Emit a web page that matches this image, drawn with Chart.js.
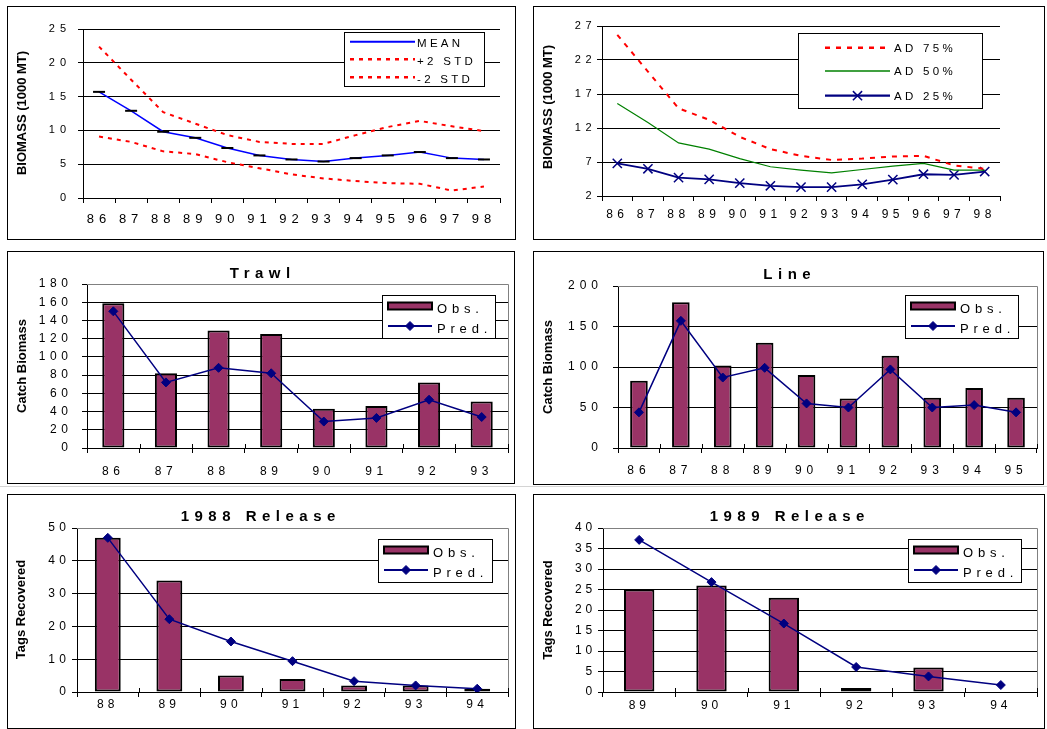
<!DOCTYPE html>
<html>
<head>
<meta charset="utf-8">
<script src="https://cdn.jsdelivr.net/npm/chart.js@4.4.0/dist/chart.umd.min.js"></script>
<style>
  body { margin: 0; background: #fff; width: 1047px; height: 729px; overflow: hidden; position: relative; }
  canvas { position: absolute; }
  #sep { position: absolute; left: 0; top: 486px; width: 1047px; height: 1px; background: #d4d4d4; }
</style>
</head>
<body>
<div id="sep"></div>
<canvas id="biomass"></canvas>
<canvas id="adBiomass"></canvas>
<canvas id="trawl"></canvas>
<canvas id="line"></canvas>
<canvas id="rel88"></canvas>
<canvas id="rel89"></canvas>
<script>
const FONT = "'Liberation Sans', Arial, Helvetica, sans-serif";

// biomass, mean and +/- 2 std
const years = ['86','87','88','89','90','91','92','93','94','95','96','97','98'];
const meanBiomass = [15.7, 12.9, 9.8, 8.9, 7.4, 6.3, 5.7, 5.4, 5.9, 6.3, 6.8, 5.9, 5.7];
const plus2Std = [22.4, 17.5, 12.7, 11.0, 9.3, 8.3, 8.0, 8.0, 9.3, 10.5, 11.4, 10.6, 9.9];
const minus2Std = [9.1, 8.3, 6.9, 6.5, 5.3, 4.4, 3.5, 2.9, 2.5, 2.2, 2.1, 1.1, 1.7];
const biomassTicks = [0, 5, 10, 15, 20, 25];

// biomass by AD percentile
const ad75 = [25.7, 20.3, 14.9, 13.2, 10.7, 8.9, 7.9, 7.3, 7.5, 7.8, 7.9, 6.5, 6.0];
const ad50 = [15.6, 12.8, 9.8, 8.9, 7.5, 6.3, 5.8, 5.4, 5.9, 6.4, 6.8, 5.8, 5.8];
const ad25 = [6.8, 6.0, 4.7, 4.45, 3.9, 3.5, 3.3, 3.3, 3.7, 4.4, 5.2, 5.1, 5.6];
const adTicks = [2, 7, 12, 17, 22, 27];

// catch biomass, trawl
const trawlYears = ['86','87','88','89','90','91','92','93'];
const trawlObs = [159, 82, 129, 125, 43, 46, 72, 51];
const trawlPred = [150, 72, 88, 82, 29, 33, 53, 34];
const trawlTicks = [0, 20, 40, 60, 80, 100, 120, 140, 160, 180];

// catch biomass, line
const lineYears = ['86','87','88','89','90','91','92','93','94','95'];
const lineObs = [83, 180, 102, 130, 90, 61, 114, 62, 74, 62];
const linePred = [44, 157, 87, 99, 55, 50, 97, 50, 53, 44];
const lineTicks = [0, 50, 100, 150, 200];

// tag recoveries
const rel88Years = ['88','89','90','91','92','93','94'];
const rel88Obs = [47, 34, 5, 4, 2, 2, 1];
const rel88Pred = [47, 22.2, 15.4, 9.4, 3.3, 2.0, 1.0];
const rel88Ticks = [0, 10, 20, 30, 40, 50];

const rel89Years = ['89','90','91','92','93','94'];
const rel89Obs = [25, 26, 23, 1, 6, 0];
const rel89Pred = [37.1, 26.8, 16.7, 6.1, 3.8, 1.7];
const rel89Ticks = [0, 5, 10, 15, 20, 25, 30, 35, 40];

Chart.defaults.font.family = FONT;
Chart.defaults.color = '#000';

const BAR = '#993366', NAVY = '#000080';

// page geometry of every panel: outer box, plot area, text placement
const panels = {
  biomass: { box: [7, 6, 515, 239], plot: [83, 29, 500, 198], yFont: 11, xFont: 13, spacing: 5, yPad: 7, xPad: 9,
    yTitle: { text: 'BIOMASS (1000 MT)', x: 22, y: 113 },
    legend: { box: [344, 32, 484, 86], sample: [350, 415], textX: 417, textDy: 2.5, font: 11.5, spacing: 3.3,
      rows: [{ ds: 0, y: 41.7, marker: false }, { ds: 1, y: 59.3 }, { ds: 2, y: 77.3 }] } },
  adBiomass: { box: [533, 6, 1044, 239], plot: [602, 26, 1000, 196], yFont: 11, xFont: 12, spacing: 4.5, yPad: 1, xPad: 6,
    yTitle: { text: 'BIOMASS (1000 MT)', x: 548, y: 107 },
    legend: { box: [798, 33, 982, 108], sample: [825, 890], textX: 894, textDy: 1, font: 11.5, spacing: 3.3,
      rows: [{ ds: 0, y: 47.7 }, { ds: 1, y: 71 }, { ds: 2, y: 95.7 }] } },
  trawl: { box: [7, 251, 514, 483], plot: [87, 284, 508, 448], yFont: 12, xFont: 12, spacing: 4.6, yPad: 9.5, xPad: 11, frame: true,
    yTitle: { text: 'Catch Biomass', x: 22, y: 366 }, title: { text: 'Trawl', x: 260, y: 274 },
    legend: { box: [382, 295, 495, 338] } },
  line: { box: [533, 251, 1043, 484], plot: [618, 286, 1037, 448], yFont: 12, xFont: 12, spacing: 5, yPad: 10, xPad: 10.5, frame: true,
    yTitle: { text: 'Catch Biomass', x: 548, y: 367 }, title: { text: 'Line', x: 787, y: 275 },
    legend: { box: [905, 295, 1018, 338] } },
  rel88: { box: [7, 494, 515, 728], plot: [77, 528, 508, 692], yFont: 12, xFont: 12, spacing: 4.2, yPad: 2, xPad: 0.5, frame: true,
    yTitle: { text: 'Tags Recovered', x: 21, y: 609.5 }, title: { text: '1988 Release', x: 258, y: 517 },
    legend: { box: [378, 539, 492, 582] } },
  rel89: { box: [533, 494, 1044, 728], plot: [603, 528, 1037, 692], yFont: 12, xFont: 12, spacing: 3.8, yPad: 2, xPad: 1, frame: true,
    yTitle: { text: 'Tags Recovered', x: 548, y: 610 }, title: { text: '1989 Release', x: 787, y: 517 },
    legend: { box: [908, 539, 1021, 582] } }
};

// obs/pred legends share one layout relative to their box
function obsPredLegend(lg) {
  const x = lg.box[0], y = lg.box[1];
  lg.sample = [x + 6, x + 50];
  lg.textX = x + 55;
  lg.textDy = 3.5;
  lg.font = 13;
  lg.spacing = 4.8;
  lg.rows = [{ ds: 1, y: y + 11 }, { ds: 0, y: y + 31 }];
}
['trawl', 'line', 'rel88', 'rel89'].forEach(k => obsPredLegend(panels[k].legend));

function panelPlugin(p) {
  return {
    id: 'panel',
    beforeDraw(chart) {
      chart.ctx.letterSpacing = p.spacing + 'px';
    },
    afterDraw(chart) {
      const ctx = chart.ctx, a = chart.chartArea;
      const ox = p.box[0], oy = p.box[1];
      ctx.save();
      ctx.letterSpacing = '0px';
      ctx.setLineDash([]);
      ctx.lineWidth = 1;

      if (p.frame) {
        ctx.strokeStyle = '#808080';
        ctx.beginPath();
        ctx.moveTo(a.left, a.top + 0.5);
        ctx.lineTo(a.right + 0.5, a.top + 0.5);
        ctx.lineTo(a.right + 0.5, a.bottom);
        ctx.stroke();
        // tick marks cross the x axis
        const xs = chart.scales.x;
        const half = (xs.getPixelForValue(1) - xs.getPixelForValue(0)) / 2;
        ctx.strokeStyle = '#000';
        ctx.beginPath();
        for (let i = 0; i <= chart.data.labels.length; i++) {
          const x = Math.round(xs.getPixelForValue(i) - half) + 0.5;
          ctx.moveTo(x, a.bottom - 4);
          ctx.lineTo(x, a.bottom);
        }
        ctx.stroke();
      }

      // panel border
      ctx.strokeStyle = '#000';
      ctx.strokeRect(0.5, 0.5, chart.width - 1, chart.height - 1);

      ctx.fillStyle = '#000';
      ctx.textBaseline = 'middle';
      ctx.textAlign = 'center';

      // y axis title
      ctx.save();
      ctx.translate(p.yTitle.x - ox, p.yTitle.y - oy);
      ctx.rotate(-Math.PI / 2);
      ctx.font = 'bold 13px ' + FONT;
      ctx.fillText(p.yTitle.text, 0, 0);
      ctx.restore();

      if (p.title) {
        ctx.font = 'bold 15px ' + FONT;
        ctx.letterSpacing = '5.5px';
        ctx.fillText(p.title.text, p.title.x - ox + 2.75, p.title.y - oy);
        ctx.letterSpacing = '0px';
      }

      // legend box
      const lg = p.legend;
      const bx = lg.box[0] - ox, by = lg.box[1] - oy;
      const bw = lg.box[2] - lg.box[0], bh = lg.box[3] - lg.box[1];
      ctx.fillStyle = '#fff';
      ctx.fillRect(bx, by, bw, bh);
      ctx.strokeStyle = '#000';
      ctx.lineWidth = 1;
      ctx.strokeRect(bx + 0.5, by + 0.5, bw, bh);

      ctx.font = lg.font + 'px ' + FONT;
      ctx.textAlign = 'left';
      const x0 = lg.sample[0] - ox, x1 = lg.sample[1] - ox;
      lg.rows.forEach(row => {
        const ds = chart.data.datasets[row.ds];
        const y = row.y - oy;
        if ((ds.type || chart.config.type) === 'bar') {
          ctx.fillStyle = ds.backgroundColor;
          ctx.fillRect(x0, y - 3.5, x1 - x0, 7);
          ctx.strokeStyle = ds.borderColor;
          ctx.lineWidth = 2;
          ctx.strokeRect(x0, y - 3.5, x1 - x0, 7);
        } else {
          ctx.strokeStyle = ds.borderColor;
          ctx.lineWidth = ds.borderWidth + 0.5;
          ctx.setLineDash(ds.borderDash || []);
          ctx.beginPath();
          ctx.moveTo(x0, y);
          ctx.lineTo(x1, y);
          ctx.stroke();
          ctx.setLineDash([]);
          if (row.marker !== false && ds.pointRadius > 0) {
            ctx.fillStyle = ds.pointBackgroundColor || ds.borderColor;
            ctx.strokeStyle = ds.pointBorderColor || ds.borderColor;
            ctx.lineWidth = ds.pointBorderWidth || 1;
            Chart.helpers.drawPoint(ctx, { pointStyle: ds.pointStyle, radius: ds.pointRadius, borderWidth: ds.pointBorderWidth || 1, rotation: 0 }, (x0 + x1) / 2, y);
          }
        }
        ctx.fillStyle = '#000';
        ctx.letterSpacing = lg.spacing + 'px';
        ctx.fillText(ds.label, lg.textX - ox, y + lg.textDy);
        ctx.letterSpacing = '0px';
      });
      ctx.restore();
      ctx.letterSpacing = '0px';
    }
  };
}

function makeChart(id, type, labels, datasets, yTicks) {
  const p = panels[id];
  const cv = document.getElementById(id);
  const [bx0, by0, bx1, by1] = p.box;
  const [px0, py0, px1, py1] = p.plot;
  cv.width = bx1 - bx0 + 1;
  cv.height = by1 - by0 + 1;
  cv.style.left = bx0 + 'px';
  cv.style.top = by0 + 'px';
  return new Chart(cv, {
    type: type,
    data: { labels: labels, datasets: datasets },
    plugins: [panelPlugin(p)],
    options: {
      responsive: false,
      animation: false,
      devicePixelRatio: 1,
      events: [],
      layout: { padding: { left: 0, top: py0 - by0, right: bx1 - px1 + 1, bottom: 0 } },
      plugins: { legend: { display: false }, tooltip: { enabled: false } },
      elements: { line: { tension: 0 } },
      scales: {
        x: {
          type: 'category',
          offset: true,
          grid: { offset: true, drawOnChartArea: false, drawTicks: true, tickLength: 5, tickColor: '#000' },
          border: { display: true, color: '#000', width: 1 },
          ticks: { font: { size: p.xFont }, padding: p.xPad, maxRotation: 0, autoSkip: false },
          afterFit: s => { s.height = by1 - py1 + 1; }
        },
        y: {
          min: yTicks[0],
          max: yTicks[yTicks.length - 1],
          grid: { color: '#000', lineWidth: 1, drawTicks: true, tickLength: 5, tickColor: '#000' },
          border: { display: true, color: '#000', width: 1 },
          ticks: { font: { size: p.yFont }, padding: p.yPad, autoSkip: false },
          afterBuildTicks: s => { s.ticks = yTicks.map(v => ({ value: v })); },
          afterFit: s => { s.width = px0 - bx0; }
        }
      }
    }
  });
}

function obsPred(obs, pred) {
  return [
    { type: 'line', label: 'Pred.', data: pred, order: 1, borderColor: NAVY, borderWidth: 1.5,
      pointStyle: 'rectRot', pointRadius: 4.5, pointBackgroundColor: NAVY, pointBorderColor: NAVY, pointBorderWidth: 1 },
    { type: 'bar', label: 'Obs.', data: obs, order: 2, backgroundColor: BAR, borderColor: '#000', borderWidth: 2,
      borderSkipped: false, barPercentage: 0.42, categoryPercentage: 1 }
  ];
}

makeChart('biomass', 'line', years, [
  { label: 'MEAN', data: meanBiomass, borderColor: '#0000FF', borderWidth: 1.5,
    pointStyle: 'line', pointRadius: 6, pointBorderColor: '#000', pointBorderWidth: 2 },
  { label: '+2 STD', data: plus2Std, borderColor: '#FF0000', borderWidth: 2, borderDash: [4, 5], pointRadius: 0 },
  { label: '-2 STD', data: minus2Std, borderColor: '#FF0000', borderWidth: 2, borderDash: [4, 5], pointRadius: 0 }
], biomassTicks);

makeChart('adBiomass', 'line', years, [
  { label: 'AD 75%', data: ad75, borderColor: '#FF0000', borderWidth: 2, borderDash: [5, 6], pointRadius: 0 },
  { label: 'AD 50%', data: ad50, borderColor: '#008000', borderWidth: 1.2, pointRadius: 0 },
  { label: 'AD 25%', data: ad25, borderColor: NAVY, borderWidth: 1.8,
    pointStyle: 'crossRot', pointRadius: 6.5, pointBorderColor: NAVY, pointBorderWidth: 1.5 }
], adTicks);

makeChart('trawl', 'bar', trawlYears, obsPred(trawlObs, trawlPred), trawlTicks);
makeChart('line', 'bar', lineYears, obsPred(lineObs, linePred), lineTicks);
makeChart('rel88', 'bar', rel88Years, obsPred(rel88Obs, rel88Pred), rel88Ticks);
makeChart('rel89', 'bar', rel89Years, obsPred(rel89Obs, rel89Pred), rel89Ticks);
</script>
</body>
</html>
